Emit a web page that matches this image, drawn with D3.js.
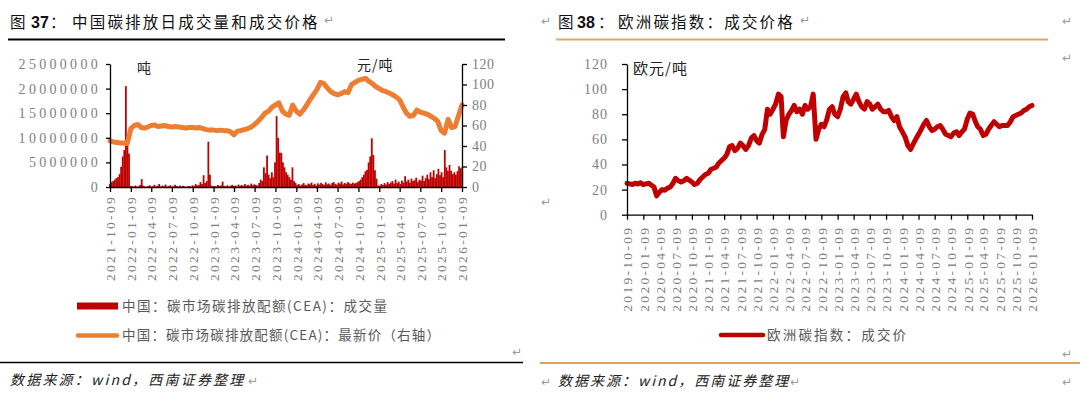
<!DOCTYPE html>
<html><head><meta charset="utf-8">
<script src="https://cdn.jsdelivr.net/npm/d3@7"></script>
<style>body{margin:0;background:#fff}svg{display:block}</style>
</head><body><svg id="c" width="1080" height="393"></svg>
<script>
// ---------- Data: China CEA ----------
const cnStart = "2021-10-09";
const cnTickLabels = ["2021-10-09","2022-01-09","2022-04-09","2022-07-09","2022-10-09","2023-01-09","2023-04-09","2023-07-09","2023-10-09","2024-01-09","2024-04-09","2024-07-09","2024-10-09","2025-01-09","2025-04-09","2025-07-09","2025-10-09","2026-01-09"];
const cnVolTicks = [0,5000000,10000000,15000000,20000000,25000000];
const cnPriceTicks = [0,20,40,60,80,100,120];
// CEA latest price (元/吨), twice per month from 2021-10-09
const cnPrice = [45,44, 43.5,43, 43,42.5, 57,60, 61,58, 57.5,58.5, 60,60.5, 59,59.5, 60,59, 58.5,59,
  58.5,58, 57.5,58, 58,57.5, 58,57, 56,55.5, 55.5,55, 55.5,55, 55,54, 51,54.5, 55,56,
  57,58.5, 61,64, 68,72, 74,78, 80,82, 74,71, 70,80, 74,71, 75,80, 85,90, 95,102,
  101,97, 93,91, 90,91, 93,92, 100,102, 104,105, 106,103, 101,98, 96,94, 93,91.5,
  90,88, 85,78, 72,69, 70,75, 73,72, 71,69, 67,64, 55,52.5, 66,58, 59,69, 80];
// CEA daily volume sampled weekly from 2021-10-09 (万吨)
const cnVolumeWan = [60,100,120,150,180,200,260,410,620,750,2050,950,680,20,
  15,10,30,8,12,40,160,25,10,5,20,35,8,15,45,10,25,60,12,30,18,50,8,20,35,10,15,45,20,8,30,12,25,10,5,15,20,8,35,15,60,30,
  40,100,60,240,80,120,920,250,30,
  15,20,10,40,25,30,110,20,15,35,10,25,45,20,30,15,50,25,40,20,60,30,45,25,70,35,55,40,
  30,80,150,120,400,280,640,250,180,300,200,500,1440,1000,700,690,500,400,300,250,200,150,400,120,80,
  40,60,30,50,80,45,35,70,55,90,40,65,30,75,50,85,60,45,95,55,70,40,80,100,60,50,90,70,110,55,80,65,100,75,60,90,70,
  80,100,120,150,200,250,320,350,500,620,990,650,340,170,30,
  30,60,40,80,50,100,60,90,120,70,150,80,110,60,130,90,220,110,150,90,170,120,140,190,100,150,130,230,120,180,250,160,300,200,340,180,260,370,240,300,200,750,400,330,450,330,260,300,250,320,420,380,400];

// ---------- Data: EU carbon ----------
const euStart = "2019-10-09";
const euTickLabels = ["2019-10-09","2020-01-09","2020-04-09","2020-07-09","2020-10-09","2021-01-09","2021-04-09","2021-07-09","2021-10-09","2022-01-09","2022-04-09","2022-07-09","2022-10-09","2023-01-09","2023-04-09","2023-07-09","2023-10-09","2024-01-09","2024-04-09","2024-07-09","2024-10-09","2025-01-09","2025-04-09","2025-07-09","2025-10-09","2026-01-09"];
const euPriceTicks = [0,20,40,60,80,100,120];
// 欧洲碳指数 成交价 (欧元/吨), twice per month from 2019-10-09
const euPrice = [25,24.5, 24,25, 24.5,25.5, 24,24.5, 25,23.5, 22,15, 18,20, 19.5,21, 22,25, 29,27,
  26,27, 29,27.5, 26,24, 25,28, 30,32, 33,36, 37,38, 41,43, 45,48, 54,55, 51,53,
  57,55, 52,55, 61,63, 59,57, 64,68, 84,80, 84,88, 96,94, 62,75, 80,83, 87,82,
  84,80, 87,84, 86,96, 60,68, 72,70, 76,84, 86,80, 78,84, 94,97, 90,88, 92,96,
  90,86, 84,90, 88,84, 86,88, 84,82, 82,83, 78,75, 78,70, 66,62, 55,52, 56,60,
  64,68, 72,75, 70,67, 68,70, 71,68, 64,63, 62,65, 66,63, 66,68, 76,81, 80,74,
  70,68, 63,64, 68,71, 74,72, 70,71, 71,71, 74,78, 79,80, 81,83, 84,86, 87];

// ---------- Drawing ----------
const svg = d3.select("#c");
svg.append("rect").attr("width",1080).attr("height",393).attr("fill","#fff");
const parse = d3.utcParse("%Y-%m-%d");
const halfMonthDate = (start,i) => { let d = d3.utcMonth.offset(parse(start), Math.floor(i/2)); return i%2 ? d3.utcDay.offset(d,15) : d; };
const CJK = "'Noto Sans CJK SC','Noto Sans',sans-serif";
const SERIF = "'Liberation Serif','DejaVu Serif',serif";
const RET = "\u21B5";

function retMark(x,y){ svg.append("text").attr("x",x).attr("y",y).text(RET).attr("font-size",12).attr("fill","#999").attr("font-family","'DejaVu Sans',sans-serif"); }

function title(x, num, rest, numX, colX, restX){
  const t = svg.append("text").attr("y",28).attr("font-family",CJK).attr("font-size",15.5).attr("fill","#111");
  t.append("tspan").attr("x",x).text("图");
  t.append("tspan").attr("x",numX).attr("font-family","'Liberation Sans',Arial,sans-serif").attr("font-weight","bold").attr("font-size",16).text(num);
  t.append("tspan").attr("x",colX).text("：");
  t.append("tspan").attr("x",restX).attr("letter-spacing",2.2).text(rest);
}

// ----- Left chart -----
title(10,"37","中国碳排放日成交量和成交价格",31,50,72);
retMark(324,24);
svg.append("line").attr("x1",8).attr("x2",505).attr("y1",39.5).attr("y2",39.5).attr("stroke","#000").attr("stroke-width",1.8);

const cnX = d3.scaleUtc().domain([parse(cnTickLabels[0]), parse(cnTickLabels[cnTickLabels.length-1])]).range([110,462]);
const cnYL = d3.scaleLinear().domain([0,25000000]).range([187,64]);
const cnYR = d3.scaleLinear().domain([0,120]).range([187,64]);

// bars
svg.append("g").selectAll("rect").data(cnVolumeWan).join("rect")
  .attr("x",(v,i)=>cnX(d3.utcDay.offset(parse(cnStart),7*i))-0.9)
  .attr("width",1.8)
  .attr("y",v=>cnYL(v*1e4))
  .attr("height",v=>cnYL(0)-cnYL(v*1e4))
  .attr("fill","#c00000");

// price line
const cnLine = d3.line().x((v,i)=>cnX(halfMonthDate(cnStart,i))).y(v=>cnYR(v));
svg.append("path").datum(cnPrice).attr("d",cnLine).attr("fill","none").attr("stroke","#ed7d31")
  .attr("stroke-width",5).attr("stroke-linejoin","round").attr("stroke-linecap","round");

function styleAxis(g, fs, ls){
  g.select(".domain").attr("stroke","#000").attr("stroke-width",1.3);
  g.selectAll(".tick line").attr("stroke","#000").attr("stroke-width",1.3);
  g.selectAll("text").attr("font-family",SERIF).attr("font-size",fs).attr("fill","#808080").attr("letter-spacing",ls);
}
const gL = svg.append("g").attr("transform","translate(110,0)")
  .call(d3.axisLeft(cnYL).tickValues(cnVolTicks).tickSize(4).tickSizeOuter(0).tickFormat(d3.format("d")).tickPadding(5));
styleAxis(gL,14,3.3);
const gR = svg.append("g").attr("transform","translate(462,0)")
  .call(d3.axisRight(cnYR).tickValues(cnPriceTicks).tickSize(5).tickSizeOuter(0).tickPadding(5));
styleAxis(gR,14,0.5);
const gB = svg.append("g").attr("transform","translate(0,187)")
  .call(d3.axisBottom(cnX).tickValues(cnTickLabels.map(parse)).tickSize(5).tickSizeOuter(0).tickFormat(d3.utcFormat("%Y-%m-%d")));
styleAxis(gB,13.5,2.3);
gB.selectAll("text").attr("transform","rotate(-90)").attr("text-anchor","end").attr("x",-8).attr("y",0).attr("dy","0.35em");

svg.append("text").attr("x",137).attr("y",73).text("吨").attr("font-family",CJK).attr("font-size",14).attr("fill","#222");
svg.append("text").attr("x",357).attr("y",70).text("元/吨").attr("font-family",CJK).attr("font-size",14).attr("fill","#222").attr("letter-spacing",1);

// legend
svg.append("rect").attr("x",77).attr("y",302.5).attr("width",41).attr("height",7).attr("fill","#c00000");
svg.append("text").attr("x",122).attr("y",311).text("中国：碳市场碳排放配额(CEA)：成交量").attr("font-family",CJK).attr("font-size",13.5).attr("fill","#595959").attr("letter-spacing",1.5);
svg.append("line").attr("x1",78).attr("x2",117).attr("y1",335.5).attr("y2",335.5).attr("stroke","#ed7d31").attr("stroke-width",4.5).attr("stroke-linecap","round");
svg.append("text").attr("x",122).attr("y",340).text("中国：碳市场碳排放配额(CEA)：最新价（右轴）").attr("font-family",CJK).attr("font-size",13.5).attr("fill","#595959").attr("letter-spacing",1.2);
retMark(512,356);
svg.append("line").attr("x1",0).attr("x2",523).attr("y1",362.5).attr("y2",362.5).attr("stroke","#000").attr("stroke-width",1.5);
svg.append("text").attr("x",10).attr("y",385).text("数据来源：wind，西南证券整理").attr("font-family",CJK).attr("font-size",14).attr("font-style","italic").attr("fill","#222").attr("letter-spacing",2.2);
retMark(248,385);

// ----- Right chart -----
retMark(541,25);
title(558,"38","欧洲碳指数：成交价格",577,598,618);
retMark(800,24);
retMark(1062,25);
retMark(1062,62);
svg.append("line").attr("x1",556).attr("x2",1048).attr("y1",39.5).attr("y2",39.5).attr("stroke","#dfa86a").attr("stroke-width",1.8);

const euX = d3.scaleUtc().domain([parse(euTickLabels[0]), parse(euTickLabels[euTickLabels.length-1])]).range([627,1032]);
const euY = d3.scaleLinear().domain([0,120]).range([214.7,64]);
const euLine = d3.line().x((v,i)=>euX(halfMonthDate(euStart,i))).y(v=>euY(v));
svg.append("path").datum(euPrice).attr("d",euLine).attr("fill","none").attr("stroke","#c00000")
  .attr("stroke-width",5).attr("stroke-linejoin","round").attr("stroke-linecap","round");

const eL = svg.append("g").attr("transform","translate(627,0)")
  .call(d3.axisLeft(euY).tickValues(euPriceTicks).tickSize(5).tickSizeOuter(0).tickPadding(14));
styleAxis(eL,14,1);
const eB = svg.append("g").attr("transform","translate(0,214.7)")
  .call(d3.axisBottom(euX).tickValues(euTickLabels.map(parse)).tickSize(5).tickSizeOuter(0).tickFormat(d3.utcFormat("%Y-%m-%d")));
styleAxis(eB,13.5,2.3);
eB.selectAll("text").attr("transform","rotate(-90)").attr("text-anchor","end").attr("x",-11).attr("y",0).attr("dy","0.35em");

svg.append("text").attr("x",633).attr("y",74).text("欧元/吨").attr("font-family",CJK).attr("font-size",15).attr("fill","#222").attr("letter-spacing",1);
retMark(541,206);

svg.append("line").attr("x1",721).attr("x2",763).attr("y1",335).attr("y2",335).attr("stroke","#c00000").attr("stroke-width",4.5).attr("stroke-linecap","round");
svg.append("text").attr("x",767).attr("y",340).text("欧洲碳指数：成交价").attr("font-family",CJK).attr("font-size",13.5).attr("fill","#595959").attr("letter-spacing",2.2);
retMark(1062,358);
svg.append("line").attr("x1",540).attr("x2",1080).attr("y1",363).attr("y2",363).attr("stroke","#d9a465").attr("stroke-width",1.8);
retMark(541,386);
svg.append("text").attr("x",558).attr("y",386).text("数据来源：wind，西南证券整理").attr("font-family",CJK).attr("font-size",14).attr("font-style","italic").attr("fill","#222").attr("letter-spacing",2);
retMark(790,386);
retMark(1062,386);
</script></body></html>
